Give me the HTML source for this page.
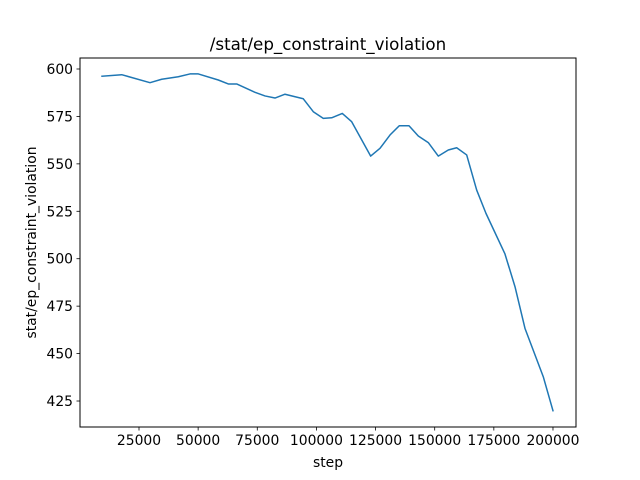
<!DOCTYPE html>
<html><head><meta charset="utf-8"><style>
html,body{margin:0;padding:0;background:#fff}
svg{display:block;font-family:"DejaVu Sans","Liberation Sans",sans-serif}
</style></head><body>
<svg id="chart" width="640" height="480" viewBox="0 0 640 480">
<rect x="0" y="0" width="640" height="480" fill="#fff"/>
<text x="328" y="50" font-size="16.7" text-anchor="middle">/stat/ep_constraint_violation</text>
<g id="plot"></g>
<rect x="80" y="58" width="496" height="369" fill="none" stroke="#000" stroke-width="1"/>
<text x="328" y="467" font-size="13.9" text-anchor="middle">step</text>
<text transform="translate(36,242.5) rotate(-90)" font-size="13.9" text-anchor="middle">stat/ep_constraint_violation</text>
</svg>
<script>
const steps=[9359,17686,29648,34594,41611,46556,50065,58519,62746,66296,74032,78259,82486,86713,94448,98675,102902,106453,110934,114907,122938,126869,131096,135027,139127,143059,147286,151513,155739,159290,163519,167744,171675,179707,183934,188161,195896,200000];
const values=[596.2,597.0,592.8,594.6,595.9,597.4,597.4,594.2,592.1,592.1,587.7,585.8,584.7,586.7,584.3,577.5,574.0,574.3,576.6,572.2,554.1,558.2,565.2,570.1,570.1,564.7,561.2,554.1,557.3,558.5,554.7,536.2,523.9,502.5,485.3,463.3,437.8,419.9];
const xTicks=[25000,50000,75000,100000,125000,150000,175000,200000];
const yTicks=[425,450,475,500,525,550,575,600];
const xs=v=>79.86+(v)/25000*59.14;
const ys=v=>69+(600-v)/25*47.43;
const NS="http://www.w3.org/2000/svg";
const g=document.getElementById('plot');
function mk(t,a){const e=document.createElementNS(NS,t);for(const k in a)e.setAttribute(k,a[k]);g.appendChild(e);return e;}
xTicks.forEach(t=>{
  const x=xs(t);
  const l=mk('line',{x1:x,x2:x,y1:427,y2:430.5,stroke:'#000','stroke-width':0.8});
  
  
  const tx=mk('text',{x:x,y:445,'font-size':13.9,'text-anchor':'middle'});
  tx.textContent=t;
  
  
});
yTicks.forEach(t=>{
  const y=ys(t);
  const l=mk('line',{x1:76.5,x2:80,y1:y,y2:y,stroke:'#000','stroke-width':0.8});
  
  
  const tx=mk('text',{x:73,y:y+5,'font-size':13.9,'text-anchor':'end'});
  tx.textContent=t;
  
  
});
const pts=steps.map((s,i)=>xs(s).toFixed(2)+','+ys(values[i]).toFixed(2)).join(' ');
const line=mk('polyline',{points:pts,fill:'none',stroke:'#1f77b4','stroke-width':1.5,'stroke-linejoin':'round','stroke-linecap':'square'});


</script>
</body></html>
